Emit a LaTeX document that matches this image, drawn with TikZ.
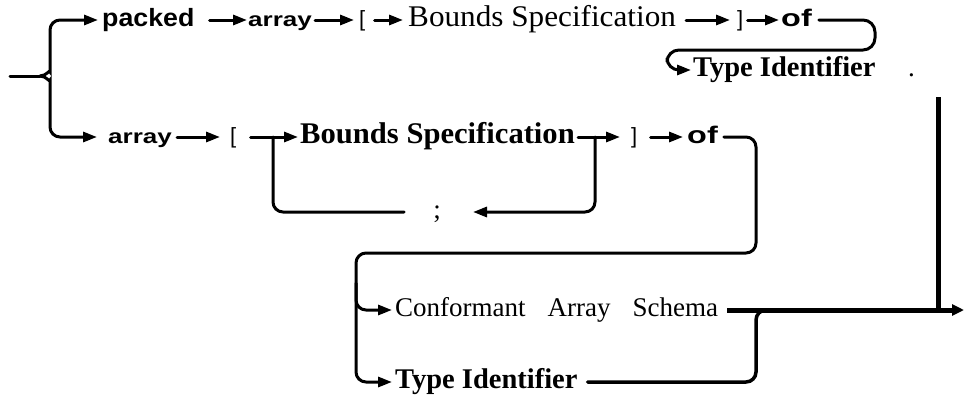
\documentclass[tikz,border=0pt]{standalone}
\usepackage{fontspec}
\setmainfont{Liberation Serif}
\newfontfamily\kwf{Liberation Sans}
\usetikzlibrary{arrows.meta}
\newcommand{\sx}[2]{\scalebox{#1}[1]{#2}}
\begin{document}
\begin{tikzpicture}[x=1pt,y=-1pt,
  conn/.style={line width=3pt, rounded corners=10pt, line cap=round},
  arr/.style={conn, -{Triangle[length=14pt,width=10pt]}},
  txt/.style={inner sep=0pt, anchor=west, text height=13pt, text depth=0pt},
  kwp/.style={txt, font=\kwf\bfseries\fontsize{25}{27}\selectfont},
  kwa/.style={txt, font=\kwf\bfseries\fontsize{20}{22}\selectfont},
  kwo/.style={txt, font=\kwf\bfseries\fontsize{24}{26}\selectfont},
  brk/.style={txt, font=\kwf\fontsize{22}{24}\selectfont},
  ser/.style={txt, font=\fontsize{27}{30}\selectfont},
  serl/.style={txt, font=\fontsize{30}{33}\selectfont},
  serb/.style={txt, font=\bfseries\fontsize{28.5}{31}\selectfont},
  serbl/.style={txt, font=\bfseries\fontsize{30}{33}\selectfont},
  thickln/.style={line width=5pt}
]
\useasboundingbox (0,0) rectangle (965,402);

% row 1
\node[kwp] (packed) at (102,20) {\sx{1.07}{packed}};
\node[kwa] (arr1) at (248,20) {\sx{1.3}{array}};
\node[brk] (lb1) at (359,20) {[};
\node[serl] (bs1) at (408,20) {\sx{1.04}{Bounds Specification}};
\node[brk] (rb1) at (737,20) {]};
\node[kwo] (of1) at (781,20) {\sx{1.35}{of}};
\node[serb] (ti1) at (693,70) {Type Identifier};
\node[ser] (dot) at (908,70) {.};

% row 2
\node[kwa] (ar2) at (108,137) {\sx{1.3}{array}};
\node[brk] (lb2) at (230,137) {[};
\node[serbl] (bs2) at (300,137) {\sx{1.02}{Bounds Specification}};
\node[brk] (rb2) at (631,137) {]};
\node[kwo] (of2) at (687,137) {\sx{1.35}{of}};
\node[ser, anchor=center] (semi) at (437,212) {;};

% lower rows
\node[ser] (cas) at (395,310) {Conformant\hspace{22pt}Array\hspace{22pt}Schema};
\node[serb] (ti2) at (395,382) {Type Identifier};

% coordinates
\coordinate (start) at (10,76);
\coordinate (cusp) at (40,76);
\coordinate (bl) at (273,137);
\coordinate (br) at (595,137);
\coordinate (rv) at (756,253);
\coordinate (lv) at (356,253);
\coordinate (vtop) at (938,97);
\coordinate (fin) at (964,310);

% brace
\draw[conn] (start) -- (cusp);
\draw[arr, shorten >=4pt] (cusp) to[out=0,in=-90] (50,62) -- (50,20) -- (packed.west);
\draw[arr, shorten >=11pt] (cusp) to[out=0,in=90] (50,90) -- (50,137) -- (ar2.west);

% row 1 connectors
\draw[arr, shorten <=15pt, shorten >=1pt] (packed.east) -- (arr1.west);
\draw[arr, shorten <=3pt, shorten >=5pt] (arr1.east) -- (lb1.west);
\draw[arr, shorten <=9pt, shorten >=5pt] (lb1.east) -- (bs1.west);
\draw[arr, shorten <=10pt, shorten >=7pt] (bs1.east) -- (rb1.west);
\draw[arr, shorten <=4pt, shorten >=2pt] (rb1.east) -- (of1.west);
\draw[arr, rounded corners=12pt, shorten <=7pt, shorten >=2pt] (of1.east) -- (875,20) -- (875,50) -- (667,50) -- (667,70) -- (ti1.west);

% row 2 connectors
\draw[arr, shorten <=5pt, shorten >=10pt] (ar2.east) -- (lb2.west);
\draw[arr, shorten <=14pt, shorten >=2pt] (lb2.east) -- (bs2.west);
\draw[arr, shorten <=3pt, shorten >=11pt] (bs2.east) -- (rb2.west);
\draw[arr, shorten <=13pt, shorten >=4pt] (rb2.east) -- (of2.west);
\draw[conn, shorten <=33pt] (semi.center) -- (bl |- semi.center) -- (bl);
\draw[arr, shorten >=36pt] (br) -- (br |- semi.center) -- (semi.center);

% big connector
\draw[arr, shorten <=6pt, shorten >=3pt] (of2.east) -- (rv |- of2.east) -- (rv) -- (lv) -- (lv |- cas.west) -- (cas.west);
\draw[arr, shorten >=3pt] (lv) ++(0,30) -- (lv |- ti2.west) -- (ti2.west);

% exits
\draw[conn, line width=3.5pt, shorten <=10pt] (ti2.east) -- (rv |- ti2.east) -- (rv |- fin) -- ++(40,0);
\draw[thickln] (vtop) -- (vtop |- fin);
\draw[thickln, -{Triangle[length=12pt,width=11pt]}, shorten <=9pt] (cas.east) -- (fin);
\end{tikzpicture}
\end{document}
